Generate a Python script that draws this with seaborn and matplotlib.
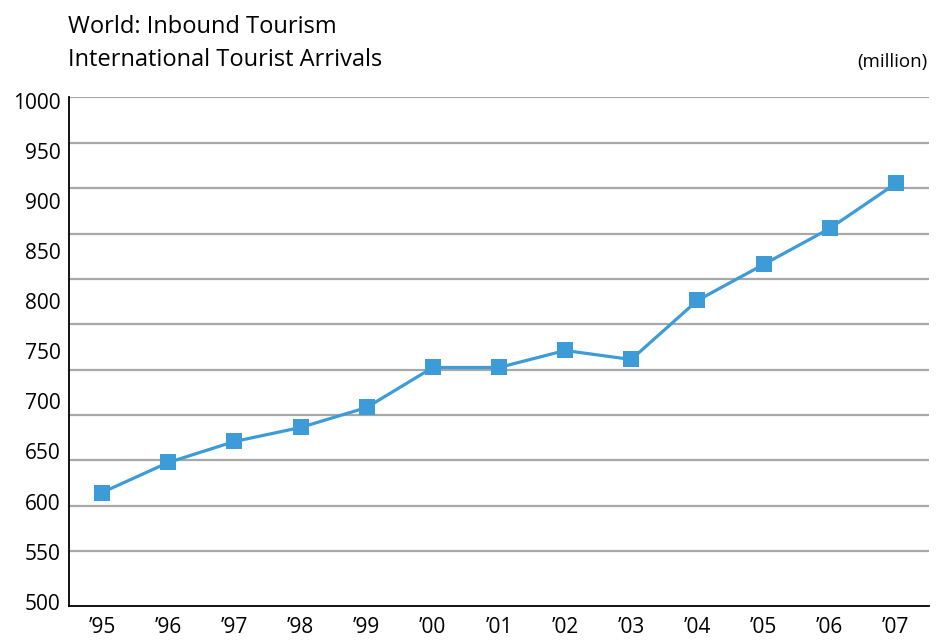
import numpy as np
import matplotlib
matplotlib.use("Agg")
import matplotlib.pyplot as plt
import seaborn as sns

# -------------------
# Data (million arrivals)
years = ["’95", "’96", "’97", "’98", "’99", "’00", "’01",
         "’02", "’03", "’04", "’05", "’06", "’07"]
arrivals = [609, 639, 660, 674, 694, 734, 734, 751, 742, 801, 837, 873, 918]
y_ticks = [500, 550, 600, 650, 700, 750, 800, 850, 900, 950, 1000]

line_color = "#3d9bd7"

sns.set_theme(style="white")
plt.rcParams["font.family"] = ["Open Sans", "DejaVu Sans"]
plt.rcParams["text.color"] = "black"

fig = plt.figure(figsize=(9.43, 6.41), dpi=100)
ax = fig.add_axes([0.0732, 0.0546, 0.9118, 0.7933])

# gridlines sit on their own (hidden) scale, slightly offset from the labels
ax_grid = ax.twinx()
ax_grid.set_ylim(439.4, 1000)
ax_grid.set_yticks(y_ticks)
ax_grid.yaxis.grid(True, color="#a8a8a8", linewidth=1.6)
ax_grid.tick_params(right=False, labelright=False)
for s in ax_grid.spines.values():
    s.set_visible(False)

ax.set_zorder(ax_grid.get_zorder() + 1)
ax.patch.set_visible(False)

sns.lineplot(x=years, y=arrivals, ax=ax, sort=False, color=line_color,
             linewidth=2.3, marker="s", markersize=11, markeredgewidth=0)

ax.set_xlim(-0.5, 12.5)
ax.set_ylim(495.5, 1004)
ax.set_yticks(y_ticks)
ax.set_xlabel("")
ax.set_ylabel("")
ax.tick_params(axis="both", length=0, labelsize=15, labelcolor="black")
ax.tick_params(axis="y", pad=6)
ax.tick_params(axis="x", pad=8)
ax.grid(False)

for side in ["top", "right"]:
    ax.spines[side].set_visible(False)
for side in ["left", "bottom"]:
    ax.spines[side].set_color("black")
    ax.spines[side].set_linewidth(1.3)

fig.text(68 / 943, 1 - 27 / 641, "World: Inbound Tourism", fontsize=17,
         ha="left", va="center", color="black")
fig.text(68 / 943, 1 - 60 / 641, "International Tourist Arrivals", fontsize=17,
         ha="left", va="center", color="black")
fig.text(928 / 943, 1 - 62 / 641, "(million)", fontsize=13.5,
         ha="right", va="center", color="black")

fig.savefig("out.png", dpi=100)
